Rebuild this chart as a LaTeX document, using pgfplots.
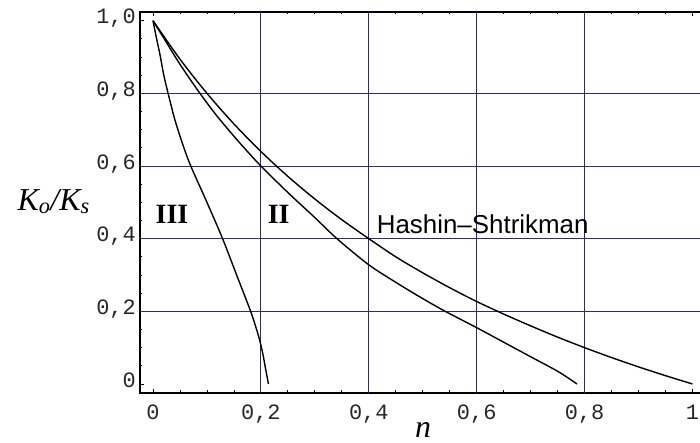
\documentclass[border=0pt]{standalone}
\usepackage{pgfplots}
\pgfplotsset{compat=1.18}
\usepackage{fontspec}
\setmainfont{Liberation Serif}
\newfontfamily\monofont{Liberation Mono}
\newfontfamily\sansfont{Liberation Sans}
\definecolor{gridblue}{RGB}{40,40,140}
\begin{document}
\begin{tikzpicture}
\useasboundingbox (0,0) rectangle (700bp,443bp);
\begin{axis}[
  scale only axis,
  width=565bp, height=381bp,
  at={(140bp,50bp)}, anchor=south west,
  xmin=-0.0241, xmax=1.0232,
  ymin=-0.0248, ymax=1.0239,
  axis line style={black, line width=1.1bp},
  xtick={0,0.2,0.4,0.6,0.8,1},
  xticklabels={0,{0,2},{0,4},{0,6},{0,8},1},
  ytick={0,0.2,0.4,0.6,0.8,1},
  yticklabels={0,{0,2},{0,4},{0,6},{0,8},{1,0}},
  minor tick num=3,
  tick align=inside,
  major tick length=4bp, minor tick length=2.5bp,
  every tick/.style={black, line width=0.8bp},
  tick label style={font=\monofont\fontsize{22}{22}\selectfont, text=black!85, inner sep=0pt},
  xticklabel style={anchor=base, yshift=-27bp},
  yticklabel style={anchor=base east, xshift=-4bp, yshift=-0.32em},
  extra x ticks={0.2,0.4,0.6,0.8},
  extra x tick labels={},
  extra y ticks={0.2,0.4,0.6,0.8},
  extra y tick labels={},
  extra tick style={grid=major, major tick length=0pt},
  major grid style={gridblue, line width=1bp},
  xlabel={\textit{n}},
  ylabel={\textit{K\textsubscript{o}/K\textsubscript{s}}},
  every axis x label/.style={at={(rel axis cs:0.501,0)}, anchor=base, yshift=-44.5bp, font=\fontsize{32}{32}\selectfont},
  every axis y label/.style={at={(rel axis cs:-0.223,0.4803)}, anchor=base west, font=\fontsize{32}{32}\selectfont},
  clip=false,
]
% Hashin-Shtrikman
\addplot[black, line width=1.4bp, smooth] coordinates {
(0,1) (0.05,0.8941) (0.1,0.8) (0.15,0.7158) (0.2,0.64) (0.25,0.5714)
(0.3,0.5091) (0.35,0.4522) (0.4,0.4) (0.45,0.350) (0.5,0.306)
(0.55,0.265) (0.6,0.227) (0.65,0.1925) (0.7,0.16) (0.75,0.129)
(0.8,0.1) (0.85,0.0727) (0.9,0.0471) (0.95,0.0229) (1.0,0)
};
% II
\addplot[black, line width=1.4bp, smooth, tension=0.5] coordinates {
(0,1) (0.02,0.952) (0.05,0.88) (0.087,0.80) (0.12,0.735) (0.16,0.665)
(0.2,0.60) (0.25,0.527) (0.3,0.458) (0.341,0.40) (0.4,0.328)
(0.458,0.2725) (0.5,0.235) (0.5417,0.20) (0.6,0.155) (0.65,0.115)
(0.7,0.075) (0.75,0.035) (0.786,0.0)
};
% III
\addplot[black, line width=1.4bp, smooth, tension=0.5] coordinates {
(0,1) (0.006,0.955) (0.013,0.906) (0.02,0.85) (0.028,0.8) (0.04,0.73)
(0.055,0.66) (0.07,0.6) (0.1,0.5) (0.129,0.4) (0.155,0.3) (0.181,0.2)
(0.192,0.15) (0.1985,0.116) (0.204,0.08) (0.2085,0.043) (0.214,0.0)
};
\node[font=\bfseries\fontsize{28}{28}\selectfont] at (axis cs:0.0352,0.466) {III};
\node[font=\bfseries\fontsize{28}{28}\selectfont] at (axis cs:0.233,0.466) {II};
\node[font=\sansfont\fontsize{26}{26}\selectfont, anchor=base west, inner sep=0pt] at (axis cs:0.4146,0.4148) {Hashin–Shtrikman};
\end{axis}
\end{tikzpicture}
\end{document}
